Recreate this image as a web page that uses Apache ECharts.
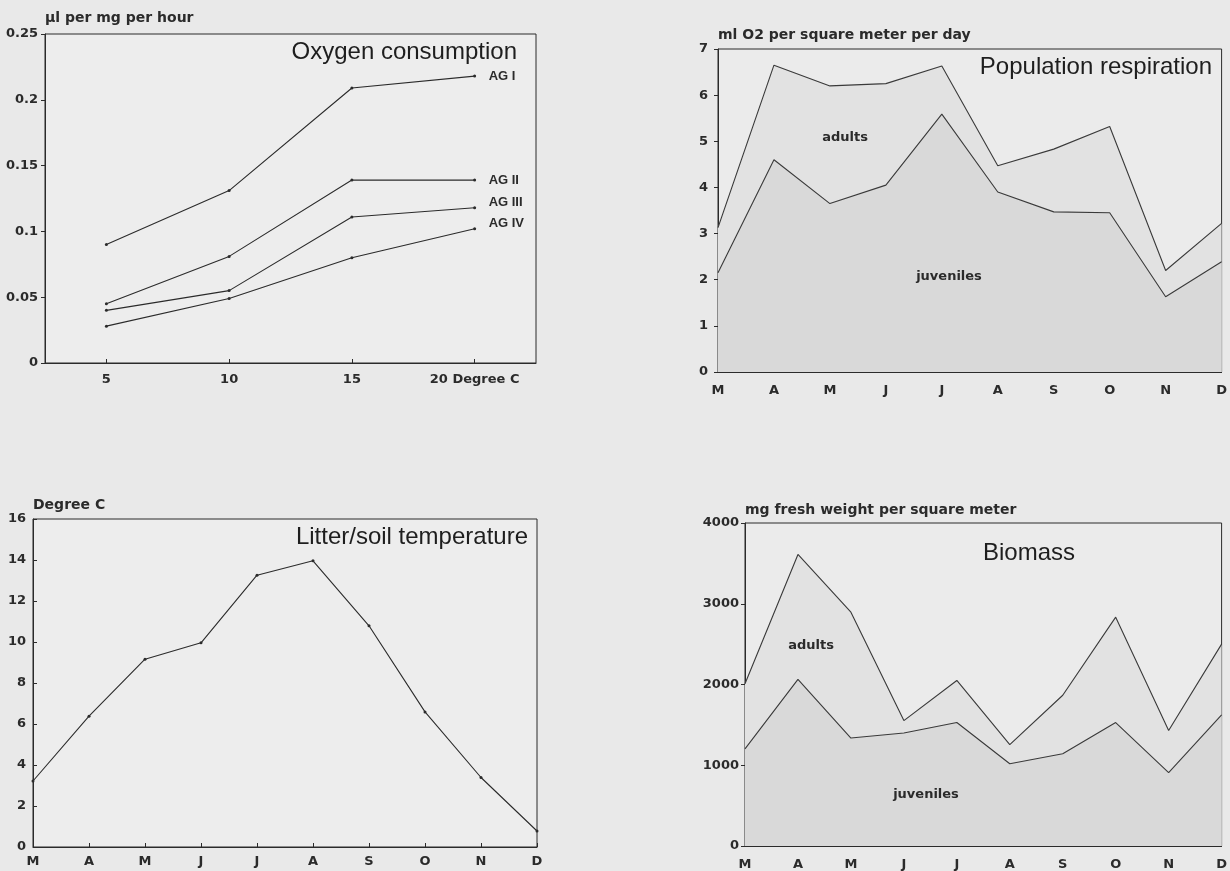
<!DOCTYPE html>
<html>
<head>
<meta charset="utf-8">
<script src="https://cdn.jsdelivr.net/npm/echarts@6/dist/echarts.min.js"></script>
<style>
  html, body { margin: 0; padding: 0; background: #e9e9e9; }
  #chart { width: 1230px; height: 871px; }
</style>
</head>
<body>
<div id="chart"></div>
<script>
// data
var months = ['M', 'A', 'M', 'J', 'J', 'A', 'S', 'O', 'N', 'D'];
var tempX = [5, 10, 15, 20];
var agI = [0.090, 0.131, 0.209, 0.218];
var agII = [0.045, 0.081, 0.139, 0.139];
var agIII = [0.040, 0.055, 0.111, 0.118];
var agIV = [0.028, 0.049, 0.080, 0.102];
var respTotal = [3.13, 6.65, 6.2, 6.25, 6.63, 4.47, 4.83, 5.32, 2.2, 3.22];
var respJuveniles = [2.15, 4.6, 3.65, 4.05, 5.59, 3.9, 3.47, 3.45, 1.63, 2.39];
var soilTemp = [3.22, 6.38, 9.16, 9.96, 13.26, 13.96, 10.79, 6.59, 3.39, 0.78];
var biomassTotal = [2010, 3610, 2895, 1553, 2050, 1256, 1867, 2834, 1431, 2500];
var biomassJuveniles = [1203, 2063, 1337, 1399, 1529, 1019, 1142, 1529, 909, 1623];

var ink = '#2b2b2b';
var smallFont = { fontFamily: 'DejaVu Sans', fontWeight: 'bold', fontSize: 13, color: ink };
var nameFont = { fontFamily: 'DejaVu Sans', fontWeight: 'bold', fontSize: 14, color: ink };

function pairs(xs, ys) {
  return xs.map(function (x, i) { return [x, ys[i]]; });
}

function catAxis(gi, margin) {
  return {
    type: 'category', gridIndex: gi, data: months, boundaryGap: false,
    axisLine: { lineStyle: { color: ink, width: 1 } },
    axisTick: { inside: true, length: 4, lineStyle: { color: ink } },
    axisLabel: Object.assign({ margin: margin, interval: 0 }, smallFont),
    splitLine: { show: false }
  };
}

function valAxis(gi, max, interval, name, gap, margin, inside) {
  return {
    type: 'value', gridIndex: gi, min: 0, max: max, interval: interval,
    name: name, nameLocation: 'end', nameGap: gap,
    nameTextStyle: Object.assign({ align: 'left', verticalAlign: 'bottom' }, nameFont),
    axisLine: { show: true, lineStyle: { color: ink, width: 1 } },
    axisTick: { show: true, inside: !!inside, length: 4, lineStyle: { color: ink } },
    axisLabel: Object.assign({ margin: margin, formatter: function (v) { return String(v); } }, smallFont),
    splitLine: { show: false }
  };
}

function titleAt(text, pos) {
  return Object.assign({
    text: text, padding: 0,
    textStyle: { fontFamily: 'Liberation Sans', fontWeight: 'normal', fontSize: 24, color: '#1e1e1e' }
  }, pos);
}

function note(text, x, y) {
  return {
    type: 'text', x: x, y: y, z: 100,
    style: { text: text, font: 'bold 13px "DejaVu Sans"', fill: ink, align: 'center', verticalAlign: 'middle' }
  };
}

function agSeries(name, ys, dy) {
  return {
    name: name, type: 'line', xAxisIndex: 0, yAxisIndex: 0,
    data: pairs(tempX, ys),
    symbol: 'circle', symbolSize: 3, showSymbol: true,
    itemStyle: { color: ink },
    lineStyle: { color: ink, width: 1.1 },
    endLabel: Object.assign({ show: true, formatter: '{a}', distance: 14, offset: [0, dy] },
      smallFont, { fontFamily: 'Liberation Sans', fontSize: 13 }),
    animation: false
  };
}

function areaSeries(gi, data, fill) {
  return {
    type: 'line', xAxisIndex: gi, yAxisIndex: gi, data: data,
    showSymbol: false, symbol: 'none',
    lineStyle: { color: '#3a3a3a', width: 1.1 },
    areaStyle: { color: fill, opacity: 1 },
    animation: false
  };
}

var chart = echarts.init(document.getElementById('chart'));
var option = {
  backgroundColor: '#e9e9e9',
  animation: false,
  title: [
    titleAt('Oxygen consumption', { right: 713, top: 40 }),
    titleAt('Population respiration', { right: 18, top: 55 }),
    titleAt('Litter/soil temperature', { right: 702, top: 525 }),
    titleAt('Biomass', { left: 1029, top: 541, textAlign: 'center' })
  ],
  grid: [
    { left: 45, top: 34, width: 491, height: 329, show: true, backgroundColor: '#ededed', borderColor: ink, borderWidth: 1 },
    { left: 718, top: 49, width: 508, height: 323, show: true, backgroundColor: '#ebebeb', borderColor: ink, borderWidth: 1 },
    { left: 33, top: 519, width: 504, height: 328, show: true, backgroundColor: '#ededed', borderColor: ink, borderWidth: 1 },
    { left: 745, top: 523, width: 484, height: 326, show: true, backgroundColor: '#ebebeb', borderColor: ink, borderWidth: 1 }
  ],
  xAxis: [
    {
      type: 'value', gridIndex: 0, min: 2.5, max: 22.5,
      axisLine: { lineStyle: { color: ink, width: 1 } },
      axisTick: { inside: true, length: 4, customValues: tempX, lineStyle: { color: ink } },
      axisLabel: Object.assign({
        margin: 10, customValues: tempX,
        formatter: function (v) { return v === 20 ? '20 Degree C' : String(v); }
      }, smallFont),
      splitLine: { show: false }
    },
    catAxis(1, 12),
    catAxis(2, 8),
    catAxis(3, 12)
  ],
  yAxis: [
    valAxis(0, 0.25, 0.05, 'µl per mg per hour', 9, 7),
    valAxis(1, 7, 1, 'ml O2 per square meter per day', 7, 10),
    valAxis(2, 16, 2, 'Degree C', 7, 7, true),
    valAxis(3, 4000, 1000, 'mg fresh weight per square meter', 6, 6)
  ],
  graphic: [
    note('adults', 845, 138),
    note('juveniles', 949, 277),
    note('adults', 811, 646),
    note('juveniles', 926, 795)
  ],
  series: [
    agSeries('AG I', agI, 0),
    agSeries('AG II', agII, 0),
    agSeries('AG III', agIII, -5),
    agSeries('AG IV', agIV, -5),
    areaSeries(1, respTotal, '#e2e2e2'),
    areaSeries(1, respJuveniles, '#d9d9d9'),
    {
      type: 'line', xAxisIndex: 2, yAxisIndex: 2, data: soilTemp,
      symbol: 'circle', symbolSize: 3, showSymbol: true,
      itemStyle: { color: ink }, lineStyle: { color: ink, width: 1.1 },
      animation: false
    },
    areaSeries(3, biomassTotal, '#e2e2e2'),
    areaSeries(3, biomassJuveniles, '#d9d9d9')
  ]
};
chart.setOption(option);
window.addEventListener('resize', function () { chart.resize(); });
</script>
</body>
</html>
